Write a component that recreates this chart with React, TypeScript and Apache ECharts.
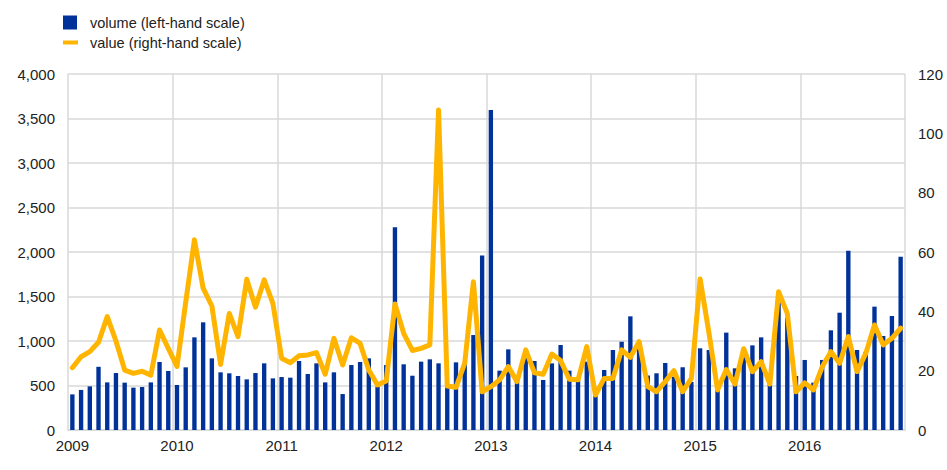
import React, { useEffect, useRef } from "react";
import * as echarts from "echarts";

const years = ["2009", "2010", "2011", "2012", "2013", "2014", "2015", "2016"];
const monthCodes = ["01", "02", "03", "04", "05", "06", "07", "08", "09", "10", "11", "12"];
const categories: string[] = [];
years.forEach((y) => monthCodes.forEach((m) => categories.push(`${y}-${m}`)));

// volume (left-hand scale)
const volume2009 = [400, 450, 490, 710, 535, 640, 532, 476, 483, 535, 764, 663];
const volume2010 = [506, 704, 1041, 1210, 805, 648, 637, 607, 569, 640, 749, 580];
const volume2011 = [595, 588, 775, 629, 749, 535, 648, 404, 730, 764, 805, 487];
const volume2012 = [730, 2277, 738, 610, 768, 794, 749, 500, 760, 749, 1067, 1962];
const volume2013 = [3595, 667, 906, 550, 820, 775, 562, 749, 955, 667, 560, 768];
const volume2014 = [390, 674, 899, 992, 1277, 950, 612, 637, 753, 599, 705, 540];
const volume2015 = [918, 899, 450, 1094, 693, 830, 951, 1041, 520, 1450, 1262, 607];
const volume2016 = [787, 532, 787, 1120, 1318, 2015, 899, 880, 1386, 1056, 1281, 1948];

// value (right-hand scale)
const value2009 = [21.0, 24.7, 26.4, 29.6, 38.2, 30.0, 20.2, 19.1, 19.8, 18.5, 33.7, 27.5];
const value2010 = [21.4, 43.0, 64.1, 47.8, 41.8, 22.1, 39.3, 31.5, 50.8, 41.4, 50.6, 42.7];
const value2011 = [24.2, 22.7, 25.0, 25.3, 26.1, 18.8, 30.9, 21.9, 31.1, 29.2, 20.2, 15.2];
const value2012 = [16.5, 42.5, 32.6, 26.8, 27.5, 28.7, 107.9, 14.8, 14.4, 22.5, 50.0, 12.9];
const value2013 = [14.6, 16.9, 21.4, 16.3, 27.0, 19.3, 18.8, 25.6, 23.4, 17.1, 16.9, 28.1];
const value2014 = [11.8, 17.4, 17.4, 27.0, 24.5, 29.8, 14.6, 12.9, 16.3, 20.0, 12.9, 17.4];
const value2015 = [50.9, 33.0, 13.5, 20.4, 15.5, 27.4, 19.7, 23.0, 15.5, 46.6, 39.3, 12.9];
const value2016 = [15.9, 13.5, 21.3, 26.4, 22.5, 31.5, 19.7, 25.8, 35.4, 28.7, 30.9, 34.3];

const volume = [
  ...volume2009, ...volume2010, ...volume2011, ...volume2012,
  ...volume2013, ...volume2014, ...volume2015, ...volume2016,
];
const value = [
  ...value2009, ...value2010, ...value2011, ...value2012,
  ...value2013, ...value2014, ...value2015, ...value2016,
];

const volumeName = "volume (left-hand scale)";
const valueName = "value (right-hand scale)";

const FONT = "'Liberation Sans', Arial, sans-serif";
const TEXT = "#222222";
const GRID = "#d9d9d9";

export default function App() {
  const ref = useRef<HTMLDivElement>(null);
  useEffect(() => {
    if (!ref.current) return;
    const chart = echarts.init(ref.current, undefined, { renderer: "svg" });
    const yearTick = (i: number) => i % 12 === 0;
    const legendText = (pad: number) => ({
      fontSize: 14.5,
      color: TEXT,
      fontFamily: FONT,
      rich: { t: { fontSize: 14.5, color: TEXT, fontFamily: FONT, padding: [0, 0, 0, pad] } },
    });
    chart.setOption({
      animation: false,
      textStyle: { fontFamily: FONT },
      legend: [
        {
          data: [{ name: volumeName, icon: "rect" }],
          left: 63,
          top: 15,
          padding: 0,
          itemWidth: 14,
          itemHeight: 14,
          selectedMode: false,
          formatter: "{t|{name}}",
          textStyle: legendText(8),
        },
        {
          data: [{ name: valueName, icon: "rect" }],
          left: 63,
          top: 35,
          padding: 0,
          itemWidth: 15,
          itemHeight: 4,
          selectedMode: false,
          formatter: "{t|{name}}",
          textStyle: legendText(7),
        },
      ],
      grid: { left: 68, right: 42, top: 74, bottom: 40, containLabel: false, outerBoundsMode: "none" },
      xAxis: {
        type: "category",
        data: categories,
        boundaryGap: true,
        axisLine: { show: true, lineStyle: { color: GRID, width: 1.5 } },
        axisTick: { show: false, interval: yearTick },
        axisLabel: {
          interval: yearTick,
          formatter: (v: string) => v.slice(0, 4),
          margin: 8,
          fontSize: 15,
          color: TEXT,
          fontFamily: FONT,
        },
        splitLine: { show: true, interval: yearTick, lineStyle: { color: GRID, width: 1.5 } },
      },
      yAxis: [
        {
          type: "value",
          min: 0,
          max: 4000,
          interval: 500,
          axisLine: { show: false },
          axisTick: { show: false },
          axisLabel: {
            fontSize: 15,
            color: TEXT,
            fontFamily: FONT,
            margin: 13,
            formatter: (v: number) => v.toLocaleString("en-US"),
          },
          splitLine: { show: true, lineStyle: { color: GRID, width: 1.5 } },
        },
        {
          type: "value",
          min: 0,
          max: 120,
          interval: 20,
          position: "right",
          axisLine: { show: false },
          axisTick: { show: false },
          axisLabel: { fontSize: 15, color: TEXT, fontFamily: FONT, margin: 13 },
          splitLine: { show: false },
        },
      ],
      series: [
        {
          name: volumeName,
          type: "bar",
          data: volume,
          yAxisIndex: 0,
          barWidth: "50%",
          itemStyle: { color: "#003299" },
        },
        {
          name: valueName,
          type: "line",
          data: value,
          yAxisIndex: 1,
          symbol: "none",
          showSymbol: false,
          lineStyle: { color: "#FFB400", width: 5, join: "round", cap: "round" },
          itemStyle: { color: "#FFB400" },
        },
      ],
    });
    return () => chart.dispose();
  }, []);
  return (
    <div
      ref={ref}
      style={{ position: "absolute", left: 0, top: 0, width: 947, height: 470, background: "#fff" }}
    />
  );
}
